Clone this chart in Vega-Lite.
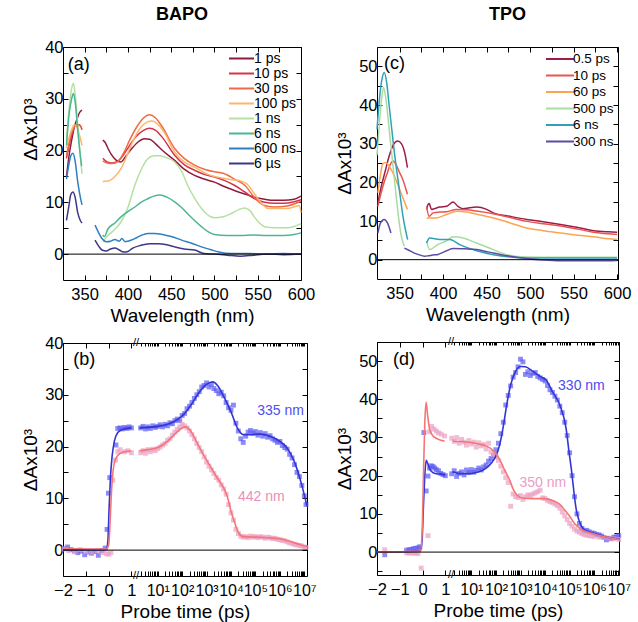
{
"$schema": "https://vega.github.io/schema/vega-lite/v6.json",
"background": "white",
"padding": {"left": 21, "top": 6, "right": 2, "bottom": 2},
"config": {
 "font": "Liberation Sans",
 "view": {"stroke": null},
 "axis": {"grid": false, "domainColor": "black", "domainWidth": 1, "tickColor": "black", "tickSize": -5, "tickWidth": 1, "labelColor": "black", "labelFontSize": 16.5, "labelPadding": 8, "titleColor": "black", "titleFontSize": 19, "titleFontWeight": "normal", "labelFont": "Liberation Sans", "titleFont": "Liberation Sans", "labelOverlap": false, "labelFlush": false},
 "axisX": {"labelPadding": 11},
 "axisY": {"labelPadding": 5},
 "legend": {"labelFont": "Liberation Sans", "labelColor": "black"},
 "title": {"font": "Liberation Sans", "color": "black"}
},
"datasets": {
 "specA": [
  {"s":"1 ps","g":1,"w":329,"v":15},{"s":"1 ps","g":1,"w":332,"v":19},{"s":"1 ps","g":1,"w":335,"v":22},{"s":"1 ps","g":1,"w":338,"v":24.5},{"s":"1 ps","g":1,"w":341,"v":26},{"s":"1 ps","g":1,"w":344,"v":27.3},{"s":"1 ps","g":1,"w":347,"v":27.8},
  {"s":"1 ps","g":2,"w":371,"v":22},{"s":"1 ps","g":2,"w":374,"v":21.5},{"s":"1 ps","g":2,"w":377,"v":20.4},{"s":"1 ps","g":2,"w":381,"v":19.2},{"s":"1 ps","g":2,"w":386,"v":18.2},{"s":"1 ps","g":2,"w":392,"v":17.8},{"s":"1 ps","g":2,"w":398,"v":19},{"s":"1 ps","g":2,"w":405,"v":20.5},{"s":"1 ps","g":2,"w":412,"v":21.7},{"s":"1 ps","g":2,"w":419,"v":22.3},{"s":"1 ps","g":2,"w":425,"v":22.2},{"s":"1 ps","g":2,"w":432,"v":21.3},{"s":"1 ps","g":2,"w":440,"v":20},{"s":"1 ps","g":2,"w":454,"v":18.1},{"s":"1 ps","g":2,"w":465,"v":16.4},{"s":"1 ps","g":2,"w":477,"v":15.2},{"s":"1 ps","g":2,"w":490,"v":14.4},{"s":"1 ps","g":2,"w":500,"v":13.9},{"s":"1 ps","g":2,"w":512,"v":13},{"s":"1 ps","g":2,"w":523,"v":12.3},{"s":"1 ps","g":2,"w":535,"v":11.6},{"s":"1 ps","g":2,"w":546,"v":11},{"s":"1 ps","g":2,"w":558,"v":10.6},{"s":"1 ps","g":2,"w":569,"v":10.4},{"s":"1 ps","g":2,"w":580,"v":10.4},{"s":"1 ps","g":2,"w":592,"v":10.6},{"s":"1 ps","g":2,"w":600,"v":11.2},
  {"s":"10 ps","g":1,"w":329,"v":18.5},{"s":"10 ps","g":1,"w":332,"v":21},{"s":"10 ps","g":1,"w":335,"v":23},{"s":"10 ps","g":1,"w":338,"v":24.5},{"s":"10 ps","g":1,"w":341,"v":25},{"s":"10 ps","g":1,"w":344,"v":25},{"s":"10 ps","g":1,"w":347,"v":24},
  {"s":"10 ps","g":2,"w":371,"v":18.5},{"s":"10 ps","g":2,"w":376,"v":17.8},{"s":"10 ps","g":2,"w":382,"v":17.6},{"s":"10 ps","g":2,"w":388,"v":17.9},{"s":"10 ps","g":2,"w":395,"v":19.2},{"s":"10 ps","g":2,"w":402,"v":21},{"s":"10 ps","g":2,"w":410,"v":22.8},{"s":"10 ps","g":2,"w":418,"v":23.9},{"s":"10 ps","g":2,"w":425,"v":24.3},{"s":"10 ps","g":2,"w":432,"v":23.9},{"s":"10 ps","g":2,"w":440,"v":22.5},{"s":"10 ps","g":2,"w":454,"v":19.1},{"s":"10 ps","g":2,"w":465,"v":17.3},{"s":"10 ps","g":2,"w":477,"v":16.2},{"s":"10 ps","g":2,"w":490,"v":15.3},{"s":"10 ps","g":2,"w":500,"v":14.9},{"s":"10 ps","g":2,"w":512,"v":14.2},{"s":"10 ps","g":2,"w":523,"v":13.3},{"s":"10 ps","g":2,"w":535,"v":12},{"s":"10 ps","g":2,"w":546,"v":10.7},{"s":"10 ps","g":2,"w":558,"v":10},{"s":"10 ps","g":2,"w":569,"v":9.8},{"s":"10 ps","g":2,"w":580,"v":9.8},{"s":"10 ps","g":2,"w":592,"v":10.1},{"s":"10 ps","g":2,"w":600,"v":10.5},
  {"s":"30 ps","g":1,"w":329,"v":19},{"s":"30 ps","g":1,"w":332,"v":21.5},{"s":"30 ps","g":1,"w":335,"v":23.5},{"s":"30 ps","g":1,"w":338,"v":24.5},{"s":"30 ps","g":1,"w":341,"v":25},{"s":"30 ps","g":1,"w":344,"v":24.8},{"s":"30 ps","g":1,"w":347,"v":24.5},
  {"s":"30 ps","g":2,"w":371,"v":18},{"s":"30 ps","g":2,"w":376,"v":17.6},{"s":"30 ps","g":2,"w":382,"v":17.5},{"s":"30 ps","g":2,"w":388,"v":17.8},{"s":"30 ps","g":2,"w":395,"v":19.5},{"s":"30 ps","g":2,"w":402,"v":22},{"s":"30 ps","g":2,"w":410,"v":24.5},{"s":"30 ps","g":2,"w":418,"v":26.3},{"s":"30 ps","g":2,"w":425,"v":26.9},{"s":"30 ps","g":2,"w":432,"v":26.3},{"s":"30 ps","g":2,"w":440,"v":24.5},{"s":"30 ps","g":2,"w":454,"v":20.4},{"s":"30 ps","g":2,"w":465,"v":18.5},{"s":"30 ps","g":2,"w":477,"v":17.2},{"s":"30 ps","g":2,"w":490,"v":16.3},{"s":"30 ps","g":2,"w":500,"v":15.9},{"s":"30 ps","g":2,"w":510,"v":15.6},{"s":"30 ps","g":2,"w":523,"v":14.5},{"s":"30 ps","g":2,"w":535,"v":13.3},{"s":"30 ps","g":2,"w":546,"v":11},{"s":"30 ps","g":2,"w":556,"v":9.5},{"s":"30 ps","g":2,"w":569,"v":9.1},{"s":"30 ps","g":2,"w":584,"v":9.3},{"s":"30 ps","g":2,"w":600,"v":10.2},
  {"s":"100 ps","g":1,"w":329,"v":20.5},{"s":"100 ps","g":1,"w":332,"v":22.5},{"s":"100 ps","g":1,"w":335,"v":24},{"s":"100 ps","g":1,"w":338,"v":25},{"s":"100 ps","g":1,"w":341,"v":24.5},{"s":"100 ps","g":1,"w":344,"v":23},{"s":"100 ps","g":1,"w":347,"v":21},
  {"s":"100 ps","g":2,"w":371,"v":14},{"s":"100 ps","g":2,"w":377,"v":14.1},{"s":"100 ps","g":2,"w":385,"v":15},{"s":"100 ps","g":2,"w":392,"v":16.5},{"s":"100 ps","g":2,"w":400,"v":19.5},{"s":"100 ps","g":2,"w":408,"v":22.6},{"s":"100 ps","g":2,"w":415,"v":24.5},{"s":"100 ps","g":2,"w":422,"v":25.5},{"s":"100 ps","g":2,"w":428,"v":25.7},{"s":"100 ps","g":2,"w":435,"v":25},{"s":"100 ps","g":2,"w":442,"v":23.5},{"s":"100 ps","g":2,"w":454,"v":19.7},{"s":"100 ps","g":2,"w":465,"v":17.8},{"s":"100 ps","g":2,"w":477,"v":16.8},{"s":"100 ps","g":2,"w":490,"v":15.6},{"s":"100 ps","g":2,"w":500,"v":15},{"s":"100 ps","g":2,"w":512,"v":14.6},{"s":"100 ps","g":2,"w":523,"v":14.3},{"s":"100 ps","g":2,"w":531,"v":14.1},{"s":"100 ps","g":2,"w":538,"v":13.5},{"s":"100 ps","g":2,"w":546,"v":11.7},{"s":"100 ps","g":2,"w":556,"v":9.5},{"s":"100 ps","g":2,"w":562,"v":8.8},{"s":"100 ps","g":2,"w":584,"v":8.8},{"s":"100 ps","g":2,"w":598,"v":9.4},{"s":"100 ps","g":2,"w":600,"v":8},
  {"s":"1 ns","g":1,"w":329,"v":22},{"s":"1 ns","g":1,"w":332,"v":28},{"s":"1 ns","g":1,"w":335,"v":32},{"s":"1 ns","g":1,"w":337,"v":33},{"s":"1 ns","g":1,"w":339,"v":31},{"s":"1 ns","g":1,"w":342,"v":25},{"s":"1 ns","g":1,"w":345,"v":19},{"s":"1 ns","g":1,"w":347,"v":15.5},
  {"s":"1 ns","g":2,"w":371,"v":2.4},{"s":"1 ns","g":2,"w":377,"v":3.6},{"s":"1 ns","g":2,"w":385,"v":4.8},{"s":"1 ns","g":2,"w":392,"v":6.2},{"s":"1 ns","g":2,"w":400,"v":9},{"s":"1 ns","g":2,"w":408,"v":13.3},{"s":"1 ns","g":2,"w":415,"v":16.2},{"s":"1 ns","g":2,"w":423,"v":18.4},{"s":"1 ns","g":2,"w":430,"v":19},{"s":"1 ns","g":2,"w":437,"v":19},{"s":"1 ns","g":2,"w":445,"v":18.6},{"s":"1 ns","g":2,"w":454,"v":17.8},{"s":"1 ns","g":2,"w":462,"v":16},{"s":"1 ns","g":2,"w":469,"v":13.3},{"s":"1 ns","g":2,"w":477,"v":10.8},{"s":"1 ns","g":2,"w":485,"v":8.8},{"s":"1 ns","g":2,"w":492,"v":7.6},{"s":"1 ns","g":2,"w":500,"v":7},{"s":"1 ns","g":2,"w":510,"v":7.2},{"s":"1 ns","g":2,"w":519,"v":7.8},{"s":"1 ns","g":2,"w":528,"v":8.6},{"s":"1 ns","g":2,"w":535,"v":8.9},{"s":"1 ns","g":2,"w":541,"v":8.4},{"s":"1 ns","g":2,"w":546,"v":7.2},{"s":"1 ns","g":2,"w":552,"v":6},{"s":"1 ns","g":2,"w":558,"v":5.3},{"s":"1 ns","g":2,"w":570,"v":5.1},{"s":"1 ns","g":2,"w":585,"v":5.1},{"s":"1 ns","g":2,"w":600,"v":5.9},
  {"s":"6 ns","g":1,"w":329,"v":21},{"s":"6 ns","g":1,"w":332,"v":27},{"s":"6 ns","g":1,"w":335,"v":30},{"s":"6 ns","g":1,"w":337,"v":31},{"s":"6 ns","g":1,"w":339,"v":29.5},{"s":"6 ns","g":1,"w":342,"v":24},{"s":"6 ns","g":1,"w":345,"v":19},{"s":"6 ns","g":1,"w":346.5,"v":17},
  {"s":"6 ns","g":2,"w":371,"v":3.7},{"s":"6 ns","g":2,"w":373,"v":3.4},{"s":"6 ns","g":2,"w":377,"v":4.9},{"s":"6 ns","g":2,"w":385,"v":6},{"s":"6 ns","g":2,"w":392,"v":7.2},{"s":"6 ns","g":2,"w":400,"v":8.2},{"s":"6 ns","g":2,"w":408,"v":9.1},{"s":"6 ns","g":2,"w":415,"v":10},{"s":"6 ns","g":2,"w":423,"v":10.7},{"s":"6 ns","g":2,"w":430,"v":11.2},{"s":"6 ns","g":2,"w":437,"v":11.4},{"s":"6 ns","g":2,"w":445,"v":11},{"s":"6 ns","g":2,"w":454,"v":10.1},{"s":"6 ns","g":2,"w":462,"v":9},{"s":"6 ns","g":2,"w":469,"v":7.8},{"s":"6 ns","g":2,"w":477,"v":6.5},{"s":"6 ns","g":2,"w":485,"v":5.3},{"s":"6 ns","g":2,"w":492,"v":4.4},{"s":"6 ns","g":2,"w":500,"v":3.8},{"s":"6 ns","g":2,"w":515,"v":3.6},{"s":"6 ns","g":2,"w":530,"v":3.6},{"s":"6 ns","g":2,"w":545,"v":3.7},{"s":"6 ns","g":2,"w":560,"v":3.6},{"s":"6 ns","g":2,"w":580,"v":3.6},{"s":"6 ns","g":2,"w":592,"v":3.8},{"s":"6 ns","g":2,"w":600,"v":4.1},
  {"s":"600 ns","g":1,"w":329,"v":14.5},{"s":"600 ns","g":1,"w":332,"v":17.5},{"s":"600 ns","g":1,"w":334,"v":19},{"s":"600 ns","g":1,"w":336.5,"v":19.5},{"s":"600 ns","g":1,"w":339,"v":18},{"s":"600 ns","g":1,"w":342,"v":14},{"s":"600 ns","g":1,"w":345,"v":11},{"s":"600 ns","g":1,"w":347,"v":9.5},
  {"s":"600 ns","g":2,"w":362,"v":5.6},{"s":"600 ns","g":2,"w":366,"v":4.2},{"s":"600 ns","g":2,"w":370,"v":3},{"s":"600 ns","g":2,"w":375,"v":2.4},{"s":"600 ns","g":2,"w":380,"v":2.5},{"s":"600 ns","g":2,"w":385,"v":2.8},{"s":"600 ns","g":2,"w":390,"v":2.5},{"s":"600 ns","g":2,"w":393,"v":3},{"s":"600 ns","g":2,"w":397,"v":2.4},{"s":"600 ns","g":2,"w":400,"v":2.5},{"s":"600 ns","g":2,"w":408,"v":3},{"s":"600 ns","g":2,"w":415,"v":3.6},{"s":"600 ns","g":2,"w":423,"v":4},{"s":"600 ns","g":2,"w":431,"v":4},{"s":"600 ns","g":2,"w":440,"v":3.8},{"s":"600 ns","g":2,"w":450,"v":3.4},{"s":"600 ns","g":2,"w":462,"v":2.7},{"s":"600 ns","g":2,"w":475,"v":2},{"s":"600 ns","g":2,"w":485,"v":1.4},{"s":"600 ns","g":2,"w":495,"v":0.9},{"s":"600 ns","g":2,"w":505,"v":0.4},{"s":"600 ns","g":2,"w":520,"v":0.1},{"s":"600 ns","g":2,"w":540,"v":0.1},{"s":"600 ns","g":2,"w":560,"v":0},{"s":"600 ns","g":2,"w":580,"v":0.1},{"s":"600 ns","g":2,"w":600,"v":0},
  {"s":"6 µs","g":1,"w":329,"v":6.5},{"s":"6 µs","g":1,"w":332,"v":9.5},{"s":"6 µs","g":1,"w":334,"v":11.5},{"s":"6 µs","g":1,"w":336.5,"v":12},{"s":"6 µs","g":1,"w":339,"v":11},{"s":"6 µs","g":1,"w":342,"v":8},{"s":"6 µs","g":1,"w":345,"v":6.5},{"s":"6 µs","g":1,"w":347,"v":6},
  {"s":"6 µs","g":2,"w":362,"v":2.7},{"s":"6 µs","g":2,"w":366,"v":1.6},{"s":"6 µs","g":2,"w":370,"v":0.8},{"s":"6 µs","g":2,"w":375,"v":0.6},{"s":"6 µs","g":2,"w":380,"v":1},{"s":"6 µs","g":2,"w":385,"v":1.2},{"s":"6 µs","g":2,"w":390,"v":0.8},{"s":"6 µs","g":2,"w":395,"v":0.4},{"s":"6 µs","g":2,"w":400,"v":0.5},{"s":"6 µs","g":2,"w":405,"v":1.1},{"s":"6 µs","g":2,"w":415,"v":1.7},{"s":"6 µs","g":2,"w":425,"v":2},{"s":"6 µs","g":2,"w":435,"v":2},{"s":"6 µs","g":2,"w":445,"v":1.8},{"s":"6 µs","g":2,"w":454,"v":1.4},{"s":"6 µs","g":2,"w":465,"v":1},{"s":"6 µs","g":2,"w":477,"v":0.8},{"s":"6 µs","g":2,"w":488,"v":0.1},{"s":"6 µs","g":2,"w":500,"v":0},{"s":"6 µs","g":2,"w":515,"v":-0.2},{"s":"6 µs","g":2,"w":530,"v":-0.4},{"s":"6 µs","g":2,"w":545,"v":-0.2},{"s":"6 µs","g":2,"w":560,"v":0},{"s":"6 µs","g":2,"w":580,"v":-0.1},{"s":"6 µs","g":2,"w":600,"v":0}
 ],
 "specC": [
  {"s":"0.5 ps","g":1,"w":325,"v":14.7},{"s":"0.5 ps","g":1,"w":329,"v":19},{"s":"0.5 ps","g":1,"w":333,"v":22.5},{"s":"0.5 ps","g":1,"w":338,"v":26.8},{"s":"0.5 ps","g":1,"w":343,"v":29.8},{"s":"0.5 ps","g":1,"w":347.7,"v":30.7},{"s":"0.5 ps","g":1,"w":352,"v":30},{"s":"0.5 ps","g":1,"w":356,"v":27.5},{"s":"0.5 ps","g":1,"w":359,"v":23.8},
  {"s":"0.5 ps","g":2,"w":381,"v":13},{"s":"0.5 ps","g":2,"w":382.7,"v":14.3},{"s":"0.5 ps","g":2,"w":384,"v":14.5},{"s":"0.5 ps","g":2,"w":386.6,"v":13},{"s":"0.5 ps","g":2,"w":390,"v":13.2},{"s":"0.5 ps","g":2,"w":396,"v":13.6},{"s":"0.5 ps","g":2,"w":404,"v":13.8},{"s":"0.5 ps","g":2,"w":411.6,"v":14.9},{"s":"0.5 ps","g":2,"w":417,"v":13.8},{"s":"0.5 ps","g":2,"w":423,"v":13.2},{"s":"0.5 ps","g":2,"w":430,"v":13.4},{"s":"0.5 ps","g":2,"w":438.5,"v":13.6},{"s":"0.5 ps","g":2,"w":450,"v":13},{"s":"0.5 ps","g":2,"w":457.7,"v":12.1},{"s":"0.5 ps","g":2,"w":477,"v":11.2},{"s":"0.5 ps","g":2,"w":496,"v":10.4},{"s":"0.5 ps","g":2,"w":515,"v":9.8},{"s":"0.5 ps","g":2,"w":535,"v":9.1},{"s":"0.5 ps","g":2,"w":555,"v":8.3},{"s":"0.5 ps","g":2,"w":573,"v":7.5},{"s":"0.5 ps","g":2,"w":590,"v":7.2},{"s":"0.5 ps","g":2,"w":600,"v":7.1},
  {"s":"10 ps","g":1,"w":325,"v":13.8},{"s":"10 ps","g":1,"w":329,"v":17.5},{"s":"10 ps","g":1,"w":332,"v":19.9},{"s":"10 ps","g":1,"w":336,"v":22.5},{"s":"10 ps","g":1,"w":339,"v":24.5},{"s":"10 ps","g":1,"w":342.7,"v":25.5},{"s":"10 ps","g":1,"w":346,"v":24.5},{"s":"10 ps","g":1,"w":350,"v":22.5},{"s":"10 ps","g":1,"w":353.5,"v":20.8},{"s":"10 ps","g":1,"w":359,"v":16.9},
  {"s":"10 ps","g":2,"w":381,"v":13.8},{"s":"10 ps","g":2,"w":383.9,"v":11.2},{"s":"10 ps","g":2,"w":388.5,"v":12.1},{"s":"10 ps","g":2,"w":396,"v":12.3},{"s":"10 ps","g":2,"w":404,"v":12.4},{"s":"10 ps","g":2,"w":415,"v":13},{"s":"10 ps","g":2,"w":427,"v":12.9},{"s":"10 ps","g":2,"w":438,"v":12.6},{"s":"10 ps","g":2,"w":457.7,"v":11.9},{"s":"10 ps","g":2,"w":477,"v":10.9},{"s":"10 ps","g":2,"w":496,"v":9.9},{"s":"10 ps","g":2,"w":515,"v":9.3},{"s":"10 ps","g":2,"w":535,"v":8.7},{"s":"10 ps","g":2,"w":555,"v":7.9},{"s":"10 ps","g":2,"w":573,"v":7.1},{"s":"10 ps","g":2,"w":590,"v":6.7},{"s":"10 ps","g":2,"w":600,"v":6.5},
  {"s":"60 ps","g":1,"w":325,"v":17.3},{"s":"60 ps","g":1,"w":328,"v":22},{"s":"60 ps","g":1,"w":330.5,"v":24.7},{"s":"60 ps","g":1,"w":334,"v":25.1},{"s":"60 ps","g":1,"w":338,"v":24.2},{"s":"60 ps","g":1,"w":344,"v":21.6},{"s":"60 ps","g":1,"w":351.5,"v":17.3},{"s":"60 ps","g":1,"w":359,"v":13},
  {"s":"60 ps","g":2,"w":381,"v":10.8},{"s":"60 ps","g":2,"w":392,"v":10.8},{"s":"60 ps","g":2,"w":404,"v":11.7},{"s":"60 ps","g":2,"w":415.4,"v":12.5},{"s":"60 ps","g":2,"w":427,"v":12.3},{"s":"60 ps","g":2,"w":438,"v":11.8},{"s":"60 ps","g":2,"w":457.7,"v":10.8},{"s":"60 ps","g":2,"w":477,"v":9.5},{"s":"60 ps","g":2,"w":496,"v":8.2},{"s":"60 ps","g":2,"w":515,"v":7.5},{"s":"60 ps","g":2,"w":535,"v":6.9},{"s":"60 ps","g":2,"w":555,"v":6.3},{"s":"60 ps","g":2,"w":573,"v":5.9},{"s":"60 ps","g":2,"w":590,"v":5.4},{"s":"60 ps","g":2,"w":600,"v":5.2},
  {"s":"500 ps","g":1,"w":324,"v":27},{"s":"500 ps","g":1,"w":327,"v":36},{"s":"500 ps","g":1,"w":329,"v":41},{"s":"500 ps","g":1,"w":331.5,"v":44.5},{"s":"500 ps","g":1,"w":334,"v":42},{"s":"500 ps","g":1,"w":338,"v":33.7},{"s":"500 ps","g":1,"w":344,"v":20.8},{"s":"500 ps","g":1,"w":349.6,"v":9.5},{"s":"500 ps","g":1,"w":352,"v":6},{"s":"500 ps","g":1,"w":355.4,"v":3.5},
  {"s":"500 ps","g":2,"w":381,"v":4.8},{"s":"500 ps","g":2,"w":384.6,"v":2.6},{"s":"500 ps","g":2,"w":392.3,"v":3.7},{"s":"500 ps","g":2,"w":404,"v":4.9},{"s":"500 ps","g":2,"w":411.6,"v":5.9},{"s":"500 ps","g":2,"w":423,"v":5.6},{"s":"500 ps","g":2,"w":438.5,"v":4.3},{"s":"500 ps","g":2,"w":457.7,"v":2.6},{"s":"500 ps","g":2,"w":473,"v":1.3},{"s":"500 ps","g":2,"w":496,"v":0.7},{"s":"500 ps","g":2,"w":535,"v":0.6},{"s":"500 ps","g":2,"w":600,"v":0.6},
  {"s":"6 ns","g":1,"w":324,"v":33.7},{"s":"6 ns","g":1,"w":327,"v":42},{"s":"6 ns","g":1,"w":330,"v":47},{"s":"6 ns","g":1,"w":332.3,"v":48.4},{"s":"6 ns","g":1,"w":335,"v":46},{"s":"6 ns","g":1,"w":338,"v":39.8},{"s":"6 ns","g":1,"w":344,"v":27.7},{"s":"6 ns","g":1,"w":349.6,"v":18.2},{"s":"6 ns","g":1,"w":354,"v":11},{"s":"6 ns","g":1,"w":359.2,"v":5.2},
  {"s":"6 ns","g":2,"w":381,"v":4.3},{"s":"6 ns","g":2,"w":384.6,"v":5.6},{"s":"6 ns","g":2,"w":396,"v":5.2},{"s":"6 ns","g":2,"w":407.7,"v":5.2},{"s":"6 ns","g":2,"w":419,"v":3.9},{"s":"6 ns","g":2,"w":438.5,"v":2.3},{"s":"6 ns","g":2,"w":457.7,"v":1.3},{"s":"6 ns","g":2,"w":477,"v":0.7},{"s":"6 ns","g":2,"w":496,"v":0.4},{"s":"6 ns","g":2,"w":550,"v":0.4},{"s":"6 ns","g":2,"w":600,"v":0.4},
  {"s":"300 ns","g":1,"w":325,"v":6.9},{"s":"300 ns","g":1,"w":328,"v":9.5},{"s":"300 ns","g":1,"w":332.3,"v":10.4},{"s":"300 ns","g":1,"w":336,"v":9.5},{"s":"300 ns","g":1,"w":340,"v":6.9},
  {"s":"300 ns","g":2,"w":355.4,"v":3},{"s":"300 ns","g":2,"w":360,"v":2.5},{"s":"300 ns","g":2,"w":367,"v":1.7},{"s":"300 ns","g":2,"w":372,"v":1.3},{"s":"300 ns","g":2,"w":378.5,"v":0.9},{"s":"300 ns","g":2,"w":383,"v":1},{"s":"300 ns","g":2,"w":388,"v":1.2},{"s":"300 ns","g":2,"w":393,"v":1.3},{"s":"300 ns","g":2,"w":404,"v":2.3},{"s":"300 ns","g":2,"w":411.6,"v":2.9},{"s":"300 ns","g":2,"w":425,"v":2.8},{"s":"300 ns","g":2,"w":438.5,"v":2.6},{"s":"300 ns","g":2,"w":448,"v":2.2},{"s":"300 ns","g":2,"w":457.7,"v":1.7},{"s":"300 ns","g":2,"w":467,"v":1.3},{"s":"300 ns","g":2,"w":477,"v":0.9},{"s":"300 ns","g":2,"w":496,"v":0.3},{"s":"300 ns","g":2,"w":515,"v":-0.1},{"s":"300 ns","g":2,"w":535,"v":-0.3},{"s":"300 ns","g":2,"w":560,"v":-0.3},{"s":"300 ns","g":2,"w":580,"v":-0.3},{"s":"300 ns","g":2,"w":600,"v":-0.2}
 ],
 "bLinPts": [
  {"s":"335 nm","t":-1.95,"v":0.3},{"s":"335 nm","t":-1.8,"v":0.6},{"s":"335 nm","t":-1.65,"v":0.1},{"s":"335 nm","t":-1.5,"v":-0.2},{"s":"335 nm","t":-1.35,"v":-0.5},{"s":"335 nm","t":-1.2,"v":-0.2},{"s":"335 nm","t":-1.05,"v":-0.9},{"s":"335 nm","t":-0.9,"v":-0.4},{"s":"335 nm","t":-0.75,"v":-0.6},{"s":"335 nm","t":-0.6,"v":-0.3},{"s":"335 nm","t":-0.45,"v":-1},{"s":"335 nm","t":-0.3,"v":-0.1},{"s":"335 nm","t":-0.15,"v":0.4},{"s":"335 nm","t":-0.07,"v":4},{"s":"335 nm","t":-0.01,"v":11},{"s":"335 nm","t":0.05,"v":14},{"s":"335 nm","t":0.32,"v":20.3},{"s":"335 nm","t":0.4,"v":23.5},{"s":"335 nm","t":0.5,"v":23.6},{"s":"335 nm","t":0.6,"v":23.4},{"s":"335 nm","t":0.7,"v":23.7},{"s":"335 nm","t":0.8,"v":23.5},{"s":"335 nm","t":0.9,"v":23.8},{"s":"335 nm","t":1.0,"v":23.6},
  {"s":"442 nm","t":-1.95,"v":0.2},{"s":"442 nm","t":-1.75,"v":-0.1},{"s":"442 nm","t":-1.5,"v":-0.3},{"s":"442 nm","t":-1.25,"v":0.1},{"s":"442 nm","t":-1.0,"v":-0.3},{"s":"442 nm","t":-0.75,"v":-0.4},{"s":"442 nm","t":-0.5,"v":-0.2},{"s":"442 nm","t":-0.25,"v":-0.5},{"s":"442 nm","t":-0.1,"v":-0.7},{"s":"442 nm","t":0.0,"v":-0.8},{"s":"442 nm","t":0.1,"v":-0.5},{"s":"442 nm","t":0.18,"v":13.5},{"s":"442 nm","t":0.3,"v":17.4},{"s":"442 nm","t":0.4,"v":19},{"s":"442 nm","t":0.5,"v":19.4},{"s":"442 nm","t":0.7,"v":19},{"s":"442 nm","t":0.85,"v":19.2},{"s":"442 nm","t":1.0,"v":18.8}
 ],
 "bLinFit": [
  {"s":"335 nm","t":-2,"v":0.1},{"s":"335 nm","t":-0.1,"v":0.1},{"s":"335 nm","t":-0.03,"v":2},{"s":"335 nm","t":0.02,"v":8},{"s":"335 nm","t":0.08,"v":14},{"s":"335 nm","t":0.15,"v":18},{"s":"335 nm","t":0.25,"v":21},{"s":"335 nm","t":0.4,"v":22.7},{"s":"335 nm","t":0.6,"v":23.3},{"s":"335 nm","t":1.0,"v":23.6},
  {"s":"442 nm","t":-2,"v":0.3},{"s":"442 nm","t":-0.1,"v":0.2},{"s":"442 nm","t":0.0,"v":1},{"s":"442 nm","t":0.05,"v":4},{"s":"442 nm","t":0.1,"v":9},{"s":"442 nm","t":0.15,"v":13},{"s":"442 nm","t":0.2,"v":15.5},{"s":"442 nm","t":0.3,"v":17.5},{"s":"442 nm","t":0.45,"v":18.5},{"s":"442 nm","t":0.7,"v":19},{"s":"442 nm","t":1.0,"v":19.2}
 ],
 "bLogPts": [
  {"s":"335 nm","t":2,"v":23.6},{"s":"335 nm","t":2.51,"v":23.9},{"s":"335 nm","t":3.16,"v":23.4},{"s":"335 nm","t":3.98,"v":23.8},{"s":"335 nm","t":5.01,"v":23.5},{"s":"335 nm","t":6.31,"v":24},{"s":"335 nm","t":7.94,"v":23.7},{"s":"335 nm","t":10,"v":23.9},{"s":"335 nm","t":12.6,"v":24.2},{"s":"335 nm","t":15.8,"v":23.8},{"s":"335 nm","t":20,"v":24.3},{"s":"335 nm","t":25.1,"v":24},{"s":"335 nm","t":31.6,"v":24.6},{"s":"335 nm","t":39.8,"v":24.4},{"s":"335 nm","t":50.1,"v":25},{"s":"335 nm","t":63.1,"v":25.3},{"s":"335 nm","t":79.4,"v":25},{"s":"335 nm","t":100,"v":26},{"s":"335 nm","t":126,"v":26.4},{"s":"335 nm","t":158,"v":27.3},{"s":"335 nm","t":200,"v":27.8},{"s":"335 nm","t":251,"v":28.5},{"s":"335 nm","t":316,"v":29.3},{"s":"335 nm","t":398,"v":30},{"s":"335 nm","t":501,"v":30.6},{"s":"335 nm","t":631,"v":31.5},{"s":"335 nm","t":794,"v":31.8},{"s":"335 nm","t":1000,"v":32.3},{"s":"335 nm","t":1259,"v":31.5},{"s":"335 nm","t":1585,"v":32},{"s":"335 nm","t":1995,"v":31.2},{"s":"335 nm","t":2512,"v":30.8},{"s":"335 nm","t":3162,"v":30.2},{"s":"335 nm","t":3981,"v":30.5},{"s":"335 nm","t":5012,"v":29.8},{"s":"335 nm","t":6310,"v":28.5},{"s":"335 nm","t":7943,"v":27.5},{"s":"335 nm","t":10000,"v":27},{"s":"335 nm","t":12590,"v":28},{"s":"335 nm","t":15850,"v":24.5},{"s":"335 nm","t":19950,"v":23},{"s":"335 nm","t":25120,"v":21.5},{"s":"335 nm","t":31620,"v":20.8},{"s":"335 nm","t":39810,"v":22},{"s":"335 nm","t":50120,"v":22.8},{"s":"335 nm","t":63100,"v":23.1},{"s":"335 nm","t":79430,"v":22.6},{"s":"335 nm","t":100000,"v":22.9},{"s":"335 nm","t":125900,"v":22.2},{"s":"335 nm","t":158500,"v":22.7},{"s":"335 nm","t":199500,"v":22},{"s":"335 nm","t":251200,"v":22.5},{"s":"335 nm","t":316200,"v":21.8},{"s":"335 nm","t":398100,"v":22.1},{"s":"335 nm","t":501200,"v":21.5},{"s":"335 nm","t":631000,"v":21.2},{"s":"335 nm","t":794300,"v":20.8},{"s":"335 nm","t":1000000,"v":21},{"s":"335 nm","t":1259000,"v":20.2},{"s":"335 nm","t":1585000,"v":19.8},{"s":"335 nm","t":1995000,"v":19.5},{"s":"335 nm","t":2512000,"v":18.5},{"s":"335 nm","t":3162000,"v":17.8},{"s":"335 nm","t":3981000,"v":16.5},{"s":"335 nm","t":5012000,"v":15},{"s":"335 nm","t":6310000,"v":14.2},{"s":"335 nm","t":7943000,"v":12.5},{"s":"335 nm","t":10000000,"v":10.5},{"s":"335 nm","t":11750000,"v":8.8},
  {"s":"442 nm","t":2,"v":18.8},{"s":"442 nm","t":2.51,"v":19.2},{"s":"442 nm","t":3.16,"v":18.7},{"s":"442 nm","t":3.98,"v":19.4},{"s":"442 nm","t":5.01,"v":19},{"s":"442 nm","t":6.31,"v":19.5},{"s":"442 nm","t":7.94,"v":19.2},{"s":"442 nm","t":10,"v":19.6},{"s":"442 nm","t":12.6,"v":19.9},{"s":"442 nm","t":15.8,"v":20.3},{"s":"442 nm","t":20,"v":20.6},{"s":"442 nm","t":25.1,"v":21.2},{"s":"442 nm","t":31.6,"v":21.5},{"s":"442 nm","t":39.8,"v":22.2},{"s":"442 nm","t":50.1,"v":22.8},{"s":"442 nm","t":63.1,"v":23.3},{"s":"442 nm","t":79.4,"v":23.8},{"s":"442 nm","t":100,"v":24.3},{"s":"442 nm","t":126,"v":24},{"s":"442 nm","t":158,"v":23.6},{"s":"442 nm","t":200,"v":23},{"s":"442 nm","t":251,"v":22.3},{"s":"442 nm","t":316,"v":21.5},{"s":"442 nm","t":398,"v":20.6},{"s":"442 nm","t":501,"v":19.8},{"s":"442 nm","t":631,"v":19},{"s":"442 nm","t":794,"v":18},{"s":"442 nm","t":1000,"v":17},{"s":"442 nm","t":1259,"v":16.2},{"s":"442 nm","t":1585,"v":15.5},{"s":"442 nm","t":1995,"v":14.8},{"s":"442 nm","t":2512,"v":14},{"s":"442 nm","t":3162,"v":13.5},{"s":"442 nm","t":3981,"v":12.6},{"s":"442 nm","t":5012,"v":11.8},{"s":"442 nm","t":6310,"v":10.8},{"s":"442 nm","t":7943,"v":8.8},{"s":"442 nm","t":10000,"v":7.2},{"s":"442 nm","t":12590,"v":5.8},{"s":"442 nm","t":15850,"v":4},{"s":"442 nm","t":19950,"v":3.2},{"s":"442 nm","t":25120,"v":2.7},{"s":"442 nm","t":31620,"v":2.5},{"s":"442 nm","t":39810,"v":2.6},{"s":"442 nm","t":50120,"v":2.4},{"s":"442 nm","t":63100,"v":2.7},{"s":"442 nm","t":79430,"v":2.5},{"s":"442 nm","t":100000,"v":2.6},{"s":"442 nm","t":125900,"v":2.4},{"s":"442 nm","t":158500,"v":2.6},{"s":"442 nm","t":199500,"v":2.5},{"s":"442 nm","t":251200,"v":2.3},{"s":"442 nm","t":316200,"v":2.5},{"s":"442 nm","t":398100,"v":2.4},{"s":"442 nm","t":501200,"v":2.2},{"s":"442 nm","t":631000,"v":2.3},{"s":"442 nm","t":794300,"v":2.1},{"s":"442 nm","t":1000000,"v":2},{"s":"442 nm","t":1259000,"v":1.9},{"s":"442 nm","t":1585000,"v":1.8},{"s":"442 nm","t":1995000,"v":1.6},{"s":"442 nm","t":2512000,"v":1.4},{"s":"442 nm","t":3162000,"v":1.3},{"s":"442 nm","t":3981000,"v":1.1},{"s":"442 nm","t":5012000,"v":1},{"s":"442 nm","t":6310000,"v":0.9},{"s":"442 nm","t":7943000,"v":0.8},{"s":"442 nm","t":10000000,"v":0.6},{"s":"442 nm","t":11750000,"v":0.5}
 ],
 "bLogFit": [
  {"s":"335 nm","t":1.78,"v":23.6},{"s":"335 nm","t":3.16,"v":23.7},{"s":"335 nm","t":10,"v":23.9},{"s":"335 nm","t":25.1,"v":24.3},{"s":"335 nm","t":63.1,"v":25.2},{"s":"335 nm","t":126,"v":26.4},{"s":"335 nm","t":251,"v":28.3},{"s":"335 nm","t":501,"v":30.5},{"s":"335 nm","t":1000,"v":32},{"s":"335 nm","t":1778,"v":32.5},{"s":"335 nm","t":2818,"v":31.8},{"s":"335 nm","t":5012,"v":29.7},{"s":"335 nm","t":10000,"v":26.7},{"s":"335 nm","t":18620,"v":23.5},{"s":"335 nm","t":31620,"v":22.3},{"s":"335 nm","t":63100,"v":22.3},{"s":"335 nm","t":158500,"v":22.4},{"s":"335 nm","t":398100,"v":22},{"s":"335 nm","t":1000000,"v":21},{"s":"335 nm","t":1995000,"v":19.7},{"s":"335 nm","t":3981000,"v":17},{"s":"335 nm","t":7943000,"v":12.5},{"s":"335 nm","t":12880000,"v":8.5},
  {"s":"442 nm","t":1.78,"v":19.2},{"s":"442 nm","t":3.98,"v":19.4},{"s":"442 nm","t":10,"v":19.8},{"s":"442 nm","t":25.1,"v":21},{"s":"442 nm","t":50.1,"v":22.4},{"s":"442 nm","t":100,"v":23.6},{"s":"442 nm","t":141,"v":23.8},{"s":"442 nm","t":224,"v":23},{"s":"442 nm","t":398,"v":20.8},{"s":"442 nm","t":794,"v":18.2},{"s":"442 nm","t":1585,"v":15.8},{"s":"442 nm","t":3162,"v":13.5},{"s":"442 nm","t":5012,"v":12},{"s":"442 nm","t":7079,"v":10.3},{"s":"442 nm","t":10000,"v":7.5},{"s":"442 nm","t":13490,"v":5.6},{"s":"442 nm","t":19950,"v":3.4},{"s":"442 nm","t":31620,"v":2.6},{"s":"442 nm","t":100000,"v":2.5},{"s":"442 nm","t":316200,"v":2.4},{"s":"442 nm","t":1000000,"v":2.2},{"s":"442 nm","t":2512000,"v":1.7},{"s":"442 nm","t":6310000,"v":1.1},{"s":"442 nm","t":12880000,"v":0.7}
 ],
 "dLinPts": [
  {"s":"330 nm","t":-1.66,"v":-0.7},{"s":"330 nm","t":-0.7,"v":0.5},{"s":"330 nm","t":-0.6,"v":0.6},{"s":"330 nm","t":-0.5,"v":0.7},{"s":"330 nm","t":-0.4,"v":0.9},{"s":"330 nm","t":-0.3,"v":1},{"s":"330 nm","t":-0.2,"v":1.1},{"s":"330 nm","t":-0.12,"v":1.4},{"s":"330 nm","t":0.06,"v":31.3},{"s":"330 nm","t":0.16,"v":16},{"s":"330 nm","t":0.24,"v":19.9},{"s":"330 nm","t":0.31,"v":22},{"s":"330 nm","t":0.38,"v":22.6},{"s":"330 nm","t":0.46,"v":22.4},{"s":"330 nm","t":0.53,"v":22},{"s":"330 nm","t":0.6,"v":21.6},{"s":"330 nm","t":0.7,"v":21.3},{"s":"330 nm","t":0.8,"v":20.6},{"s":"330 nm","t":0.9,"v":20.3},{"s":"330 nm","t":1.0,"v":20},
  {"s":"350 nm","t":-1.66,"v":0.6},{"s":"350 nm","t":-0.7,"v":-0.2},{"s":"350 nm","t":-0.6,"v":-0.3},{"s":"350 nm","t":-0.5,"v":-0.1},{"s":"350 nm","t":-0.4,"v":-0.3},{"s":"350 nm","t":-0.3,"v":-0.2},{"s":"350 nm","t":-0.2,"v":-0.4},{"s":"350 nm","t":-0.06,"v":-4.2},{"s":"350 nm","t":0.24,"v":4.3},{"s":"350 nm","t":0.31,"v":31.5},{"s":"350 nm","t":0.4,"v":32.9},{"s":"350 nm","t":0.5,"v":32.2},{"s":"350 nm","t":0.6,"v":31.7},{"s":"350 nm","t":0.7,"v":31.2},{"s":"350 nm","t":0.82,"v":30.9},{"s":"350 nm","t":0.97,"v":30.4}
 ],
 "dLinFit": [
  {"s":"330 nm","t":-2,"v":0},{"s":"330 nm","t":-0.1,"v":0.3},{"s":"330 nm","t":-0.02,"v":3},{"s":"330 nm","t":0.04,"v":12},{"s":"330 nm","t":0.1,"v":20},{"s":"330 nm","t":0.16,"v":24},{"s":"330 nm","t":0.22,"v":23.3},{"s":"330 nm","t":0.31,"v":21.8},{"s":"330 nm","t":0.46,"v":20.8},{"s":"330 nm","t":0.6,"v":20.5},{"s":"330 nm","t":0.8,"v":20.4},{"s":"330 nm","t":1.0,"v":20.2},
  {"s":"350 nm","t":-2,"v":0},{"s":"350 nm","t":-0.1,"v":0.2},{"s":"350 nm","t":-0.02,"v":5},{"s":"350 nm","t":0.04,"v":20},{"s":"350 nm","t":0.1,"v":34},{"s":"350 nm","t":0.16,"v":39.2},{"s":"350 nm","t":0.22,"v":36},{"s":"350 nm","t":0.31,"v":32.2},{"s":"350 nm","t":0.46,"v":30.4},{"s":"350 nm","t":0.6,"v":29.8},{"s":"350 nm","t":0.8,"v":29.3},{"s":"350 nm","t":0.97,"v":29.1}
 ],
 "dLogPts": [
  {"s":"330 nm","t":1.58,"v":20.5},{"s":"330 nm","t":2,"v":21.3},{"s":"330 nm","t":2.51,"v":19.8},{"s":"330 nm","t":3.16,"v":20.6},{"s":"330 nm","t":3.98,"v":21},{"s":"330 nm","t":5.01,"v":20.2},{"s":"330 nm","t":6.31,"v":21.5},{"s":"330 nm","t":7.94,"v":20.8},{"s":"330 nm","t":10,"v":21.6},{"s":"330 nm","t":12.6,"v":20.9},{"s":"330 nm","t":15.8,"v":21.4},{"s":"330 nm","t":20,"v":22},{"s":"330 nm","t":25.1,"v":21.5},{"s":"330 nm","t":31.6,"v":22.3},{"s":"330 nm","t":39.8,"v":22.8},{"s":"330 nm","t":50.1,"v":23.8},{"s":"330 nm","t":63.1,"v":24.5},{"s":"330 nm","t":79.4,"v":25.3},{"s":"330 nm","t":100,"v":26.8},{"s":"330 nm","t":126,"v":28.5},{"s":"330 nm","t":158,"v":31},{"s":"330 nm","t":200,"v":34},{"s":"330 nm","t":251,"v":38.5},{"s":"330 nm","t":316,"v":41},{"s":"330 nm","t":398,"v":43.5},{"s":"330 nm","t":501,"v":45.8},{"s":"330 nm","t":631,"v":47},{"s":"330 nm","t":794,"v":48.5},{"s":"330 nm","t":1000,"v":50.5},{"s":"330 nm","t":1259,"v":49.8},{"s":"330 nm","t":1585,"v":46.5},{"s":"330 nm","t":1995,"v":47.2},{"s":"330 nm","t":2512,"v":46.2},{"s":"330 nm","t":3162,"v":46.8},{"s":"330 nm","t":3981,"v":47},{"s":"330 nm","t":5012,"v":46},{"s":"330 nm","t":6310,"v":45.6},{"s":"330 nm","t":7943,"v":45.2},{"s":"330 nm","t":10000,"v":44.8},{"s":"330 nm","t":12590,"v":43.6},{"s":"330 nm","t":15850,"v":42.5},{"s":"330 nm","t":19950,"v":41.8},{"s":"330 nm","t":25120,"v":40.8},{"s":"330 nm","t":31620,"v":39.8},{"s":"330 nm","t":39810,"v":38.2},{"s":"330 nm","t":50120,"v":36.5},{"s":"330 nm","t":63100,"v":34},{"s":"330 nm","t":79430,"v":30.5},{"s":"330 nm","t":100000,"v":26},{"s":"330 nm","t":125900,"v":20},{"s":"330 nm","t":158500,"v":14.5},{"s":"330 nm","t":199500,"v":10},{"s":"330 nm","t":251200,"v":7.5},{"s":"330 nm","t":316200,"v":6.2},{"s":"330 nm","t":398100,"v":5.5},{"s":"330 nm","t":501200,"v":5.7},{"s":"330 nm","t":631000,"v":5.3},{"s":"330 nm","t":794300,"v":5},{"s":"330 nm","t":1000000,"v":4.9},{"s":"330 nm","t":1259000,"v":4.6},{"s":"330 nm","t":1585000,"v":4.5},{"s":"330 nm","t":1995000,"v":4.2},{"s":"330 nm","t":2512000,"v":3.8},{"s":"330 nm","t":3162000,"v":3.2},{"s":"330 nm","t":3981000,"v":3.6},{"s":"330 nm","t":5012000,"v":3.5},{"s":"330 nm","t":6310000,"v":3.9},{"s":"330 nm","t":7943000,"v":4},{"s":"330 nm","t":10000000,"v":4.3},
  {"s":"350 nm","t":1.58,"v":29.8},{"s":"350 nm","t":2,"v":29},{"s":"350 nm","t":2.51,"v":30},{"s":"350 nm","t":3.16,"v":28.5},{"s":"350 nm","t":3.98,"v":29.5},{"s":"350 nm","t":5.01,"v":28.8},{"s":"350 nm","t":6.31,"v":28},{"s":"350 nm","t":7.94,"v":29.2},{"s":"350 nm","t":10,"v":28.3},{"s":"350 nm","t":12.6,"v":28.8},{"s":"350 nm","t":15.8,"v":27.5},{"s":"350 nm","t":20,"v":28.6},{"s":"350 nm","t":25.1,"v":27.8},{"s":"350 nm","t":31.6,"v":28.2},{"s":"350 nm","t":39.8,"v":27},{"s":"350 nm","t":50.1,"v":28.5},{"s":"350 nm","t":63.1,"v":26.2},{"s":"350 nm","t":79.4,"v":25.5},{"s":"350 nm","t":100,"v":25},{"s":"350 nm","t":126,"v":24},{"s":"350 nm","t":158,"v":22.5},{"s":"350 nm","t":200,"v":21},{"s":"350 nm","t":251,"v":19.5},{"s":"350 nm","t":316,"v":18.2},{"s":"350 nm","t":398,"v":12},{"s":"350 nm","t":501,"v":15.2},{"s":"350 nm","t":631,"v":14.5},{"s":"350 nm","t":794,"v":14.3},{"s":"350 nm","t":1000,"v":14.8},{"s":"350 nm","t":1259,"v":13.8},{"s":"350 nm","t":1585,"v":14.5},{"s":"350 nm","t":1995,"v":15},{"s":"350 nm","t":2512,"v":14.8},{"s":"350 nm","t":3162,"v":15.2},{"s":"350 nm","t":3981,"v":15.5},{"s":"350 nm","t":5012,"v":15.8},{"s":"350 nm","t":6310,"v":16.2},{"s":"350 nm","t":7943,"v":14.2},{"s":"350 nm","t":10000,"v":14},{"s":"350 nm","t":12590,"v":13.5},{"s":"350 nm","t":15850,"v":13.2},{"s":"350 nm","t":19950,"v":13},{"s":"350 nm","t":25120,"v":12.6},{"s":"350 nm","t":31620,"v":12.2},{"s":"350 nm","t":39810,"v":11.5},{"s":"350 nm","t":50120,"v":10.5},{"s":"350 nm","t":63100,"v":9.5},{"s":"350 nm","t":79430,"v":8.5},{"s":"350 nm","t":100000,"v":7.5},{"s":"350 nm","t":125900,"v":6.8},{"s":"350 nm","t":158500,"v":6},{"s":"350 nm","t":199500,"v":5.5},{"s":"350 nm","t":251200,"v":5.2},{"s":"350 nm","t":316200,"v":4.8},{"s":"350 nm","t":398100,"v":4.6},{"s":"350 nm","t":501200,"v":4.4},{"s":"350 nm","t":631000,"v":4.3},{"s":"350 nm","t":794300,"v":4.2},{"s":"350 nm","t":1000000,"v":4.1},{"s":"350 nm","t":1585000,"v":3.9},{"s":"350 nm","t":2512000,"v":3.8},{"s":"350 nm","t":3981000,"v":3.6},{"s":"350 nm","t":6310000,"v":3.5},{"s":"350 nm","t":10000000,"v":3.3}
 ],
 "dLogFit": [
  {"s":"330 nm","t":1.74,"v":21},{"s":"330 nm","t":3.98,"v":20.5},{"s":"330 nm","t":10,"v":20.6},{"s":"330 nm","t":20,"v":21},{"s":"330 nm","t":39.8,"v":22},{"s":"330 nm","t":70.8,"v":23.6},{"s":"330 nm","t":100,"v":25.2},{"s":"330 nm","t":141,"v":28},{"s":"330 nm","t":200,"v":33},{"s":"330 nm","t":282,"v":39},{"s":"330 nm","t":398,"v":43.8},{"s":"330 nm","t":631,"v":47.3},{"s":"330 nm","t":1000,"v":48.6},{"s":"330 nm","t":1585,"v":48.5},{"s":"330 nm","t":3162,"v":47.3},{"s":"330 nm","t":6310,"v":46},{"s":"330 nm","t":11220,"v":45},{"s":"330 nm","t":19950,"v":42},{"s":"330 nm","t":39810,"v":38.5},{"s":"330 nm","t":72440,"v":32.2},{"s":"330 nm","t":93330,"v":26.5},{"s":"330 nm","t":117500,"v":21.7},{"s":"330 nm","t":147900,"v":16},{"s":"330 nm","t":186200,"v":11.1},{"s":"330 nm","t":239900,"v":8.3},{"s":"330 nm","t":302000,"v":6.8},{"s":"330 nm","t":446700,"v":5.6},{"s":"330 nm","t":660700,"v":5.2},{"s":"330 nm","t":1585000,"v":4.5},{"s":"330 nm","t":3981000,"v":3.8},{"s":"330 nm","t":10230000,"v":3.4},
  {"s":"350 nm","t":1.74,"v":29},{"s":"350 nm","t":6.31,"v":28.8},{"s":"350 nm","t":20,"v":28.3},{"s":"350 nm","t":39.8,"v":27.8},{"s":"350 nm","t":79.4,"v":26.5},{"s":"350 nm","t":141,"v":24.3},{"s":"350 nm","t":224,"v":21.5},{"s":"350 nm","t":355,"v":19},{"s":"350 nm","t":501,"v":16.5},{"s":"350 nm","t":708,"v":15},{"s":"350 nm","t":1259,"v":14.1},{"s":"350 nm","t":3162,"v":14},{"s":"350 nm","t":10000,"v":14},{"s":"350 nm","t":19950,"v":13.5},{"s":"350 nm","t":39810,"v":12.5},{"s":"350 nm","t":63100,"v":11},{"s":"350 nm","t":100000,"v":9.4},{"s":"350 nm","t":158500,"v":7.5},{"s":"350 nm","t":251200,"v":6.3},{"s":"350 nm","t":398100,"v":5.5},{"s":"350 nm","t":707900,"v":5},{"s":"350 nm","t":1995000,"v":4.2},{"s":"350 nm","t":10230000,"v":3.3}
 ]
},
"spacing": 18,
"resolve": {"scale": {"color": "independent"}, "legend": {"color": "independent"}},
"hconcat": [
 {"spacing": 9, "resolve": {"scale": {"color": "independent"}, "legend": {"color": "independent"}}, "vconcat": [
  {"width": 238, "height": 233,
   "title": {"text": "BAPO", "frame": "group", "anchor": "middle", "fontSize": 18, "fontWeight": "bold", "offset": 15},
   "layer": [
    {"data": {"name": "specA"}, "mark": {"type": "line", "strokeWidth": 1.5, "interpolate": "monotone"},
     "encoding": {
      "x": {"field": "w", "type": "quantitative", "scale": {"domain": [325, 600], "nice": false, "zero": false}, "axis": {"orient": "bottom", "values": [350,375,400,425,450,475,500,525,550,575,600], "labelExpr": "datum.value % 50 == 0 ? datum.label : ''", "title": "Wavelength (nm)"}},
      "y": {"field": "v", "type": "quantitative", "scale": {"domain": [-5, 40], "nice": false, "zero": false}, "axis": {"orient": "left", "values": [0,5,10,15,20,25,30,35,40], "labelExpr": "datum.value % 10 == 0 ? datum.label : ''", "title": "ΔAx10³", "titleY": 82}},
      "color": {"field": "s", "type": "nominal", "scale": {"domain": ["1 ps","10 ps","30 ps","100 ps","1 ns","6 ns","600 ns","6 µs"], "range": ["#8e1b3f","#d63447","#f26a44","#fdb66c","#b5e0a2","#4db692","#2f7fc0","#3b3789"]},
        "legend": {"orient": "top-right", "offset": 4, "title": null, "labelFontSize": 14, "symbolType": "M-2,0L2,0", "symbolSize": 156, "symbolStrokeWidth": 2, "rowPadding": 0, "labelOffset": 5, "padding": 0}},
      "detail": {"field": "g", "type": "nominal"}
     }},
    {"data": {"values": [{}]}, "mark": {"type": "rule", "color": "black", "strokeWidth": 1}, "encoding": {"y": {"datum": 0, "type": "quantitative", "axis": null}}},
    {"data": {"values": [{}]}, "mark": {"type": "text", "text": "(a)", "fontSize": 18, "align": "left", "baseline": "middle", "color": "black"},
     "encoding": {"x": {"datum": 330.5, "type": "quantitative", "axis": {"orient": "top", "labels": false, "title": null, "values": [350,375,400,425,450,475,500,525,550,575,600]}},
      "y": {"datum": 36.5, "type": "quantitative", "axis": {"orient": "right", "labels": false, "title": null, "values": [0,5,10,15,20,25,30,35,40]}}}}
   ],
   "resolve": {"axis": {"x": "independent", "y": "independent"}}
  },
  {"spacing": 0, "bounds": "flush", "resolve": {"scale": {"color": "independent"}}, "hconcat": [
   {"width": 73, "height": 233,
    "layer": [
     {"data": {"name": "bLinPts"}, "mark": {"type": "square", "size": 24, "opacity": 0.7},
      "encoding": {
       "x": {"field": "t", "type": "quantitative", "scale": {"domain": [-2, 1.2], "nice": false, "zero": false}, "axis": {"orient": "bottom", "values": [-2,-1,0,1], "title": null}},
       "y": {"field": "v", "type": "quantitative", "scale": {"domain": [-5, 40], "nice": false, "zero": false}, "axis": {"orient": "left", "values": [0,5,10,15,20,25,30,35,40], "labelExpr": "datum.value % 10 == 0 ? datum.label : ''", "title": "ΔAx10³"}},
       "color": {"field": "s", "type": "nominal", "scale": {"domain": ["335 nm","442 nm"], "range": ["#5b5bf2","#eb9fc3"]}, "legend": null}}},
     {"data": {"name": "bLinFit"}, "mark": {"type": "line", "strokeWidth": 1.6, "interpolate": "monotone"},
      "encoding": {
       "x": {"field": "t", "type": "quantitative", "axis": {"orient": "top", "values": [-2,-1,0,1], "labels": false, "title": null}},
       "y": {"field": "v", "type": "quantitative", "axis": null},
       "color": {"field": "s", "type": "nominal", "scale": {"domain": ["335 nm","442 nm"], "range": ["#3434d6","#f47676"]}, "legend": null}}},
     {"data": {"values": [{}]}, "mark": {"type": "rule", "color": "black", "strokeWidth": 1}, "encoding": {"y": {"datum": 0, "type": "quantitative", "axis": null}}},
     {"data": {"values": [{}]}, "mark": {"type": "text", "text": "(b)", "fontSize": 18, "align": "left", "baseline": "middle", "color": "black"},
      "encoding": {"x": {"datum": -1.55, "type": "quantitative", "axis": null}, "y": {"datum": 36.8, "type": "quantitative", "axis": null}}}
    ],
    "resolve": {"scale": {"color": "independent"}, "axis": {"x": "independent", "y": "independent"}}
   },
   {"width": 171, "height": 233,
    "layer": [
     {"data": {"name": "bLogPts"}, "mark": {"type": "square", "size": 24, "opacity": 0.7},
      "encoding": {
       "x": {"field": "t", "type": "quantitative", "scale": {"type": "log", "domain": [1.29, 12900000], "nice": false}, "axis": {"orient": "bottom", "values": [2,3,4,5,6,7,8,9,10,20,30,40,50,60,70,80,90,100,200,300,400,500,600,700,800,900,1000,2000,3000,4000,5000,6000,7000,8000,9000,10000,20000,30000,40000,50000,60000,70000,80000,90000,100000,200000,300000,400000,500000,600000,700000,800000,900000,1000000,2000000,3000000,4000000,5000000,6000000,7000000,8000000,9000000,10000000], "labelExpr": "abs(log(datum.value)/LN10 - round(log(datum.value)/LN10)) < 0.001 ? '10' + ['','¹','²','³','⁴','⁵','⁶','⁷'][round(log(datum.value)/LN10)] : ''", "labelFontSize": 16, "title": "Probe time (ps)", "titleX": 49}},
       "y": {"field": "v", "type": "quantitative", "scale": {"domain": [-5, 40], "nice": false, "zero": false}, "axis": null},
       "color": {"field": "s", "type": "nominal", "scale": {"domain": ["335 nm","442 nm"], "range": ["#5b5bf2","#eb9fc3"]}, "legend": null}}},
     {"data": {"name": "bLogFit"}, "mark": {"type": "line", "strokeWidth": 1.6, "interpolate": "monotone"},
      "encoding": {
       "x": {"field": "t", "type": "quantitative", "axis": {"orient": "top", "values": [2,3,4,5,6,7,8,9,10,20,30,40,50,60,70,80,90,100,200,300,400,500,600,700,800,900,1000,2000,3000,4000,5000,6000,7000,8000,9000,10000,20000,30000,40000,50000,60000,70000,80000,90000,100000,200000,300000,400000,500000,600000,700000,800000,900000,1000000,2000000,3000000,4000000,5000000,6000000,7000000,8000000,9000000,10000000], "labels": false, "title": null, "tickSize": -3}},
       "y": {"field": "v", "type": "quantitative", "axis": {"orient": "right", "values": [0,5,10,15,20,25,30,35,40], "labels": false, "title": null}},
       "color": {"field": "s", "type": "nominal", "scale": {"domain": ["335 nm","442 nm"], "range": ["#3434d6","#f47676"]}, "legend": null}}},
     {"data": {"values": [{}]}, "mark": {"type": "rule", "color": "black", "strokeWidth": 1}, "encoding": {"y": {"datum": 0, "type": "quantitative", "axis": null}}},
     {"data": {"values": [{}]}, "mark": {"type": "text", "text": "//", "fontSize": 11, "align": "center", "baseline": "middle", "color": "black"},
      "encoding": {"x": {"datum": 1.29, "type": "quantitative", "axis": null}, "y": {"datum": 40, "type": "quantitative", "axis": null}}},
     {"data": {"values": [{}]}, "mark": {"type": "text", "text": "//", "fontSize": 11, "align": "center", "baseline": "middle", "color": "black"},
      "encoding": {"x": {"datum": 1.29, "type": "quantitative", "axis": null}, "y": {"datum": -5, "type": "quantitative", "axis": null}}},
     {"data": {"values": [{}]}, "mark": {"type": "text", "text": "335 nm", "fontSize": 14, "align": "center", "baseline": "middle", "color": "#5050f0"},
      "encoding": {"x": {"datum": 1070000, "type": "quantitative", "axis": null}, "y": {"datum": 26.8, "type": "quantitative", "axis": null}}},
     {"data": {"values": [{}]}, "mark": {"type": "text", "text": "442 nm", "fontSize": 14, "align": "center", "baseline": "middle", "color": "#e890b8"},
      "encoding": {"x": {"datum": 174000, "type": "quantitative", "axis": null}, "y": {"datum": 10.3, "type": "quantitative", "axis": null}}}
    ],
    "resolve": {"scale": {"color": "independent"}, "axis": {"x": "independent", "y": "independent"}}
   }
  ]}
 ]},
 {"spacing": 9, "resolve": {"scale": {"color": "independent"}, "legend": {"color": "independent"}}, "vconcat": [
  {"width": 241, "height": 232,
   "title": {"text": "TPO", "frame": "group", "anchor": "middle", "fontSize": 18, "fontWeight": "bold", "offset": 15, "dx": 10},
   "layer": [
    {"data": {"name": "specC"}, "mark": {"type": "line", "strokeWidth": 1.5, "interpolate": "monotone"},
     "encoding": {
      "x": {"field": "w", "type": "quantitative", "scale": {"domain": [324, 601], "nice": false, "zero": false}, "axis": {"orient": "bottom", "values": [350,375,400,425,450,475,500,525,550,575,600], "labelExpr": "datum.value % 50 == 0 ? datum.label : ''", "title": "Wavelength (nm)"}},
      "y": {"field": "v", "type": "quantitative", "scale": {"domain": [-5, 55], "nice": false, "zero": false}, "axis": {"orient": "left", "values": [0,5,10,15,20,25,30,35,40,45,50,55], "labelExpr": "datum.value % 10 == 0 ? datum.label : ''", "title": "ΔAx10³"}},
      "color": {"field": "s", "type": "nominal", "scale": {"domain": ["0.5 ps","10 ps","60 ps","500 ps","6 ns","300 ns"], "range": ["#9c1d4a","#e8554e","#fca452","#a6dca1","#31a1b4","#5b4ba3"]},
        "legend": {"orient": "top-right", "offset": 4, "title": null, "labelFontSize": 13.5, "symbolType": "M-2,0L2,0", "symbolSize": 196, "symbolStrokeWidth": 2, "rowPadding": 1.5, "labelOffset": 5, "padding": 0}},
      "detail": {"field": "g", "type": "nominal"}
     }},
    {"data": {"values": [{}]}, "mark": {"type": "rule", "color": "black", "strokeWidth": 1}, "encoding": {"y": {"datum": 0, "type": "quantitative", "axis": null}}},
    {"data": {"values": [{}]}, "mark": {"type": "text", "text": "(c)", "fontSize": 18, "align": "left", "baseline": "middle", "color": "black"},
     "encoding": {"x": {"datum": 332, "type": "quantitative", "axis": {"orient": "top", "labels": false, "title": null, "values": [350,375,400,425,450,475,500,525,550,575,600]}},
      "y": {"datum": 50.6, "type": "quantitative", "axis": {"orient": "right", "labels": false, "title": null, "values": [0,5,10,15,20,25,30,35,40,45,50,55]}}}}
   ],
   "resolve": {"axis": {"x": "independent", "y": "independent"}}
  },
  {"spacing": 0, "bounds": "flush", "resolve": {"scale": {"color": "independent"}}, "hconcat": [
   {"width": 74, "height": 233,
    "layer": [
     {"data": {"name": "dLinPts"}, "mark": {"type": "square", "size": 24, "opacity": 0.7},
      "encoding": {
       "x": {"field": "t", "type": "quantitative", "scale": {"domain": [-2, 1.25], "nice": false, "zero": false}, "axis": {"orient": "bottom", "values": [-2,-1,0,1], "title": null}},
       "y": {"field": "v", "type": "quantitative", "scale": {"domain": [-6, 55], "nice": false, "zero": false}, "axis": {"orient": "left", "values": [-5,0,5,10,15,20,25,30,35,40,45,50,55], "labelExpr": "datum.value % 10 == 0 ? datum.label : ''", "title": "ΔAx10³"}},
       "color": {"field": "s", "type": "nominal", "scale": {"domain": ["330 nm","350 nm"], "range": ["#5b5bf2","#eb9fc3"]}, "legend": null}}},
     {"data": {"name": "dLinFit"}, "mark": {"type": "line", "strokeWidth": 1.6, "interpolate": "monotone"},
      "encoding": {
       "x": {"field": "t", "type": "quantitative", "axis": {"orient": "top", "values": [-2,-1,0,1], "labels": false, "title": null}},
       "y": {"field": "v", "type": "quantitative", "axis": null},
       "color": {"field": "s", "type": "nominal", "scale": {"domain": ["330 nm","350 nm"], "range": ["#3434d6","#f47676"]}, "legend": null}}},
     {"data": {"values": [{}]}, "mark": {"type": "rule", "color": "black", "strokeWidth": 1}, "encoding": {"y": {"datum": 0, "type": "quantitative", "axis": null}}},
     {"data": {"values": [{}]}, "mark": {"type": "text", "text": "(d)", "fontSize": 18, "align": "left", "baseline": "middle", "color": "black"},
      "encoding": {"x": {"datum": -1.3, "type": "quantitative", "axis": null}, "y": {"datum": 50.2, "type": "quantitative", "axis": null}}}
    ],
    "resolve": {"scale": {"color": "independent"}, "axis": {"x": "independent", "y": "independent"}}
   },
   {"width": 168, "height": 233,
    "layer": [
     {"data": {"name": "dLogPts"}, "mark": {"type": "square", "size": 24, "opacity": 0.7},
      "encoding": {
       "x": {"field": "t", "type": "quantitative", "scale": {"type": "log", "domain": [1.48, 10230000], "nice": false}, "axis": {"orient": "bottom", "values": [2,3,4,5,6,7,8,9,10,20,30,40,50,60,70,80,90,100,200,300,400,500,600,700,800,900,1000,2000,3000,4000,5000,6000,7000,8000,9000,10000,20000,30000,40000,50000,60000,70000,80000,90000,100000,200000,300000,400000,500000,600000,700000,800000,900000,1000000,2000000,3000000,4000000,5000000,6000000,7000000,8000000,9000000,10000000], "labelExpr": "abs(log(datum.value)/LN10 - round(log(datum.value)/LN10)) < 0.001 ? '10' + ['','¹','²','³','⁴','⁵','⁶','⁷'][round(log(datum.value)/LN10)] : ''", "labelFontSize": 16, "title": "Probe time (ps)", "titleX": 47}},
       "y": {"field": "v", "type": "quantitative", "scale": {"domain": [-6, 55], "nice": false, "zero": false}, "axis": null},
       "color": {"field": "s", "type": "nominal", "scale": {"domain": ["330 nm","350 nm"], "range": ["#5b5bf2","#eb9fc3"]}, "legend": null}}},
     {"data": {"name": "dLogFit"}, "mark": {"type": "line", "strokeWidth": 1.6, "interpolate": "monotone"},
      "encoding": {
       "x": {"field": "t", "type": "quantitative", "axis": {"orient": "top", "values": [2,3,4,5,6,7,8,9,10,20,30,40,50,60,70,80,90,100,200,300,400,500,600,700,800,900,1000,2000,3000,4000,5000,6000,7000,8000,9000,10000,20000,30000,40000,50000,60000,70000,80000,90000,100000,200000,300000,400000,500000,600000,700000,800000,900000,1000000,2000000,3000000,4000000,5000000,6000000,7000000,8000000,9000000,10000000], "labels": false, "title": null, "tickSize": -3}},
       "y": {"field": "v", "type": "quantitative", "axis": {"orient": "right", "values": [-5,0,5,10,15,20,25,30,35,40,45,50,55], "labels": false, "title": null}},
       "color": {"field": "s", "type": "nominal", "scale": {"domain": ["330 nm","350 nm"], "range": ["#3434d6","#f47676"]}, "legend": null}}},
     {"data": {"values": [{}]}, "mark": {"type": "rule", "color": "black", "strokeWidth": 1}, "encoding": {"y": {"datum": 0, "type": "quantitative", "axis": null}}},
     {"data": {"values": [{}]}, "mark": {"type": "text", "text": "//", "fontSize": 11, "align": "center", "baseline": "middle", "color": "black"},
      "encoding": {"x": {"datum": 1.48, "type": "quantitative", "axis": null}, "y": {"datum": 55, "type": "quantitative", "axis": null}}},
     {"data": {"values": [{}]}, "mark": {"type": "text", "text": "//", "fontSize": 11, "align": "center", "baseline": "middle", "color": "black"},
      "encoding": {"x": {"datum": 1.48, "type": "quantitative", "axis": null}, "y": {"datum": -6, "type": "quantitative", "axis": null}}},
     {"data": {"values": [{}]}, "mark": {"type": "text", "text": "330 nm", "fontSize": 14, "align": "center", "baseline": "middle", "color": "#4c4cf0"},
      "encoding": {"x": {"datum": 302000, "type": "quantitative", "axis": null}, "y": {"datum": 43.6, "type": "quantitative", "axis": null}}},
     {"data": {"values": [{}]}, "mark": {"type": "text", "text": "350 nm", "fontSize": 14, "align": "center", "baseline": "middle", "color": "#e8a0c4"},
      "encoding": {"x": {"datum": 8128, "type": "quantitative", "axis": null}, "y": {"datum": 18.2, "type": "quantitative", "axis": null}}}
    ],
    "resolve": {"scale": {"color": "independent"}, "axis": {"x": "independent", "y": "independent"}}
   }
  ]}
 ]}
]
}
